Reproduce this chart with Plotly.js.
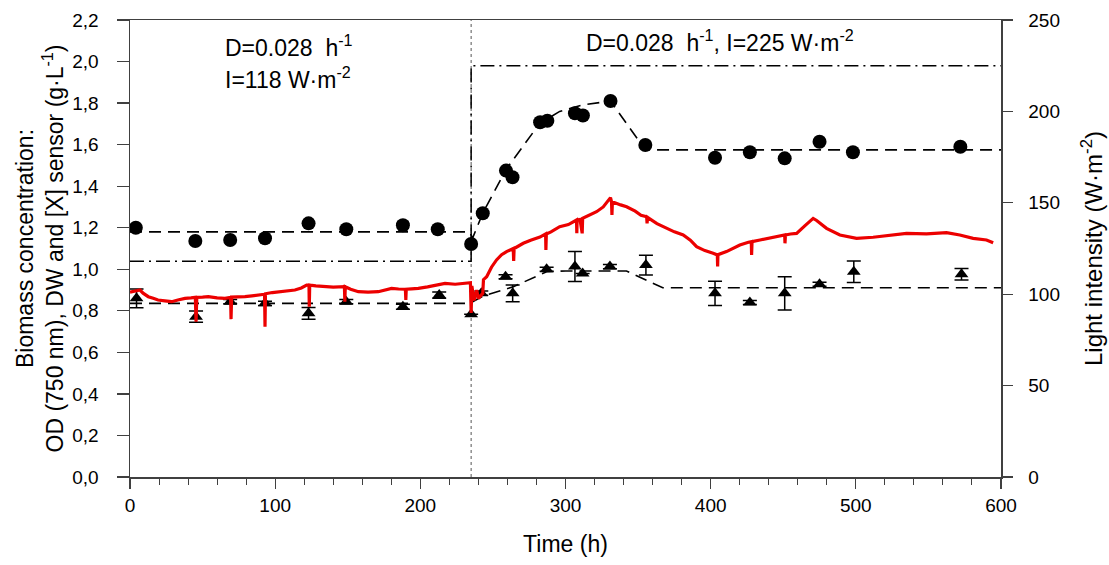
<!DOCTYPE html>
<html>
<head>
<meta charset="utf-8">
<script src="https://cdn.plot.ly/plotly-3.0.1.min.js"></script>
<style>
html,body{margin:0;padding:0;background:#fff;}
#chart{width:1109px;height:565px;}
</style>
</head>
<body>
<div id="chart"></div>
<script>
// ---- Data ----
// Biomass (circles, OD 750 nm)
const odTime  = [4, 45, 69, 93, 123, 149, 188, 212, 235, 243, 259, 263.5, 282.5, 287.5, 306.5, 312, 331, 355, 403, 427, 451, 475, 498, 572];
const odValue = [1.20, 1.136, 1.141, 1.149, 1.221, 1.193, 1.212, 1.193, 1.122, 1.27, 1.475, 1.443, 1.708, 1.715, 1.751, 1.74, 1.81, 1.598, 1.537, 1.563, 1.534, 1.614, 1.563, 1.59];
const odError = [0, 0, 0, 0, 0, 0, 0.015, 0, 0, 0, 0, 0, 0, 0, 0, 0, 0, 0, 0, 0, 0, 0, 0, 0.01];

// Biomass (triangles, DW)
const dwTime  = [4.5, 45.5, 69, 93, 123, 149, 188, 213, 235, 242, 258.7, 263.6, 287, 306.5, 311.8, 330.6, 355.4, 403, 427, 451, 475, 498.6, 572.8];
const dwValue = [0.86, 0.772, 0.844, 0.836, 0.788, 0.844, 0.82, 0.876, 0.783, 0.885, 0.964, 0.884, 1.0, 1.013, 0.98, 1.013, 1.02, 0.884, 0.84, 0.884, 0.928, 0.988, 0.976];
const dwError = [0.045, 0.027, 0.01, 0.01, 0.028, 0.01, 0.012, 0.015, 0, 0.01, 0.01, 0.04, 0.01, 0.072, 0, 0.01, 0.048, 0.058, 0.01, 0.08, 0.01, 0.052, 0.028];

// Model curves (dashed)
const odModelTime  = [0, 234, 236, 243, 259, 282, 296, 311, 331, 355, 600];
const odModelValue = [1.18, 1.18, 1.15, 1.27, 1.48, 1.70, 1.76, 1.79, 1.81, 1.575, 1.575];
const dwModelTime  = [0, 234, 243, 264, 287, 300, 342, 367, 600];
const dwModelValue = [0.836, 0.836, 0.87, 0.916, 0.988, 0.992, 0.992, 0.911, 0.911];

// Light intensity (right axis)
const lightTime  = [0, 235, 235, 600];
const lightValue = [118, 118, 225, 225];
const switchTime = 235;

// [X] sensor (red trace)
const sensorTime = [0, 3, 6.9, 9, 12.6, 16, 19.3, 24, 28.7, 33, 37.9, 42, 45, 45.5, 46, 50, 53.9, 60, 65.4, 69.3, 69.6, 70, 75, 79.2, 84, 88.4, 92.7, 93, 93.3, 98, 102.1, 108, 113.6, 118, 121.7, 123.3, 123.5, 123.8, 128, 134.3, 140, 147.7, 148, 148.3, 152, 157.3, 164, 171, 176, 180.2, 185, 189.7, 190, 190.3, 194, 198.6, 205, 212.3, 217, 224, 230, 234.5, 235, 235.5, 237, 238.8, 240, 241, 243, 243.5, 245.7, 249, 252.5, 256, 259.4, 264, 264.3, 264.6, 270.9, 276, 282.4, 286.3, 286.5, 286.8, 290, 296, 302, 307.6, 307.8, 308, 310, 311.5, 311.8, 316, 321.4, 326, 331, 331.7, 332, 332.3, 334, 338, 342.1, 348, 352, 355.9, 356.2, 356.5, 363, 369.6, 375, 381.1, 386, 390.3, 396, 401.7, 404.6, 404.8, 405, 410.9, 415.5, 420.1, 426, 428, 428.2, 428.5, 434, 440, 446, 451, 451.2, 451.5, 455, 459.2, 465, 470.6, 473, 479.8, 489, 500.5, 511.9, 523.4, 534.9, 548.7, 562.5, 571.6, 580.8, 590, 594.6];
const sensorValue = [0.89, 0.895, 0.90, 0.885, 0.868, 0.86, 0.852, 0.848, 0.844, 0.852, 0.86, 0.862, 0.865, 0.748, 0.865, 0.866, 0.868, 0.862, 0.86, 0.865, 0.76, 0.866, 0.866, 0.868, 0.872, 0.876, 0.88, 0.724, 0.882, 0.888, 0.892, 0.895, 0.90, 0.91, 0.924, 0.924, 0.82, 0.924, 0.92, 0.916, 0.914, 0.916, 0.844, 0.916, 0.904, 0.892, 0.89, 0.892, 0.90, 0.908, 0.905, 0.904, 0.852, 0.904, 0.906, 0.908, 0.915, 0.924, 0.932, 0.928, 0.932, 0.935, 0.79, 0.92, 0.85, 0.90, 0.86, 0.87, 0.884, 0.95, 0.964, 1.01, 1.045, 1.07, 1.085, 1.10, 1.04, 1.10, 1.125, 1.14, 1.155, 1.17, 1.093, 1.17, 1.18, 1.205, 1.215, 1.237, 1.173, 1.237, 1.24, 1.173, 1.245, 1.26, 1.277, 1.30, 1.345, 1.325, 1.261, 1.325, 1.32, 1.31, 1.301, 1.28, 1.26, 1.253, 1.221, 1.25, 1.22, 1.197, 1.18, 1.165, 1.14, 1.109, 1.09, 1.077, 1.069, 1.013, 1.07, 1.085, 1.101, 1.117, 1.13, 1.133, 1.069, 1.133, 1.141, 1.149, 1.155, 1.165, 1.125, 1.165, 1.17, 1.173, 1.21, 1.245, 1.235, 1.197, 1.165, 1.149, 1.154, 1.165, 1.173, 1.17, 1.176, 1.165, 1.149, 1.141, 1.128];

// Tick labels
const xTicks = [0, 100, 200, 300, 400, 500, 600];
const yTicks = [0, 0.2, 0.4, 0.6, 0.8, 1.0, 1.2, 1.4, 1.6, 1.8, 2.0, 2.2];
const yTickText = ['0,0','0,2','0,4','0,6','0,8','1,0','1,2','1,4','1,6','1,8','2,0','2,2'];
const y2Ticks = [0, 50, 100, 150, 200, 250];

const FONT = 'Liberation Sans, Arial, sans-serif';
const AX = '#404040';

const traces = [
  {x: [switchTime, switchTime], y: [0, 2.2], mode: 'lines', yaxis: 'y',
   line: {color: '#555', width: 1, dash: 'dot'}, hoverinfo: 'skip', showlegend: false},
  {x: odModelTime, y: odModelValue, mode: 'lines', yaxis: 'y',
   line: {color: '#000', width: 1.6, dash: '12px,7px'}, showlegend: false},
  {x: dwModelTime, y: dwModelValue, mode: 'lines', yaxis: 'y',
   line: {color: '#000', width: 1.6, dash: '12px,7px'}, showlegend: false},
  {x: dwTime, y: dwValue, mode: 'markers', yaxis: 'y',
   marker: {symbol: 'triangle-up', size: 12, color: '#000'},
   error_y: {type: 'data', array: dwError, visible: true, color: '#000', thickness: 1.5, width: 7},
   showlegend: false},
  {x: sensorTime, y: sensorValue, mode: 'lines', yaxis: 'y',
   line: {color: 'rgb(236,0,0)', width: 3.2}, showlegend: false},
  {x: odTime, y: odValue, mode: 'markers', yaxis: 'y',
   marker: {symbol: 'circle', size: 14, color: '#000'},
   error_y: {type: 'data', array: odError, visible: true, color: '#000', thickness: 1.5, width: 6},
   showlegend: false},
  {x: lightTime, y: lightValue, mode: 'lines', yaxis: 'y2',
   line: {color: '#000', width: 1.5, dash: '14px,5px,2px,5px'}, showlegend: false}
];

const layout = {
  width: 1109, height: 565,
  margin: {l: 130, r: 108, t: 20, b: 88},
  paper_bgcolor: '#fff', plot_bgcolor: '#fff',
  font: {family: FONT, color: '#000', size: 19},
  showlegend: false,
  xaxis: {
    range: [0, 600], tickvals: xTicks, ticks: 'outside', ticklen: 10, tickwidth: 1.3, tickcolor: AX,
    minor: {dtick: 20, ticks: 'outside', ticklen: 6, tickwidth: 1, tickcolor: AX},
    showline: true, linecolor: AX, linewidth: 1.5, mirror: true, showgrid: false, zeroline: false,
    tickfont: {size: 19}, ticklabelstandoff: 1,
    title: {text: 'Time (h)', font: {size: 23}, standoff: 20}
  },
  yaxis: {
    range: [0, 2.2], tickvals: yTicks, ticktext: yTickText, ticks: 'outside', ticklen: 12, tickwidth: 1.3, tickcolor: AX,
    showline: true, linecolor: AX, linewidth: 1.5, showgrid: false, zeroline: false,
    tickfont: {size: 19}, ticklabelstandoff: 14,
    title: {text: 'Biomass concentration:<br>OD (750 nm), DW and [X] sensor (g·L<sup>-1</sup>)', font: {size: 23}, standoff: 2}
  },
  yaxis2: {
    range: [0, 250], tickvals: y2Ticks, overlaying: 'y', side: 'right', ticks: 'outside', ticklen: 10, tickwidth: 1.3, tickcolor: AX,
    showline: true, linecolor: AX, linewidth: 1.5, showgrid: false, zeroline: false,
    tickfont: {size: 19}, ticklabelstandoff: 12,
    title: {text: 'Light intensity (W·m<sup>-2</sup>)', font: {size: 24}, standoff: 26}
  },
  annotations: [
    {xref: 'paper', yref: 'paper', x: 0.107, y: 0.944, xanchor: 'left', yanchor: 'middle', showarrow: false, align: 'left',
     text: 'D=0.028  h<sup>-1</sup>', font: {size: 23}},
    {xref: 'paper', yref: 'paper', x: 0.107, y: 0.872, xanchor: 'left', yanchor: 'middle', showarrow: false, align: 'left',
     text: 'I=118 W·m<sup>-2</sup>', font: {size: 23}},
    {xref: 'paper', yref: 'paper', x: 0.677, y: 0.955, xanchor: 'center', yanchor: 'middle', showarrow: false,
     text: 'D=0.028  h<sup>-1</sup>, I=225 W·m<sup>-2</sup>', font: {size: 23}}
  ]
};

Plotly.newPlot('chart', traces, layout, {displayModeBar: false, staticPlot: true});
</script>
</body>
</html>
